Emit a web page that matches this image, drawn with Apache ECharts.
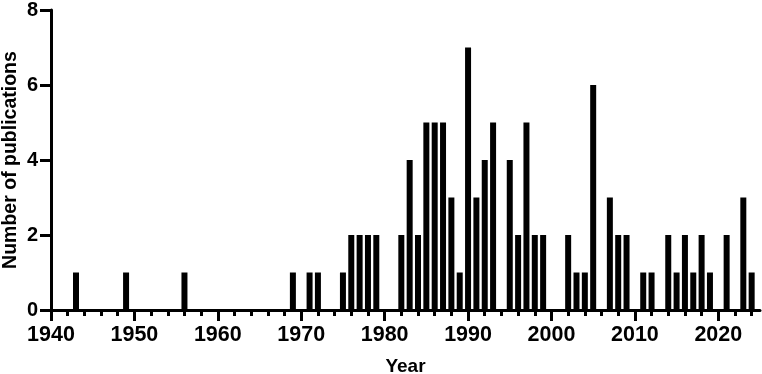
<!DOCTYPE html>
<html>
<head>
<meta charset="utf-8">
<script src="https://cdn.jsdelivr.net/npm/echarts@6/dist/echarts.min.js"></script>
<style>
html,body{margin:0;padding:0;background:#fff;}
#chart{width:762px;height:374px;}
</style>
</head>
<body>
<div id="chart"></div>
<script>
const years = [1943,1949,1956,1969,1971,1972,1975,1976,1977,1978,1979,1982,1983,1984,1985,1986,1987,1988,1989,1990,1991,1992,1993,1995,1996,1997,1998,1999,2002,2003,2004,2005,2007,2008,2009,2011,2012,2014,2015,2016,2017,2018,2019,2021,2023,2024];
const counts = [1,1,1,1,1,1,1,2,2,2,2,2,4,2,5,5,5,3,1,7,3,4,5,4,2,5,2,2,2,1,1,6,3,2,2,1,1,2,1,2,1,2,1,2,3,1];
// x tick labels: 1940..2020 every 10 years; minor ticks every 2 years up to 2024
const xTickFirst = 1940, xTickLast = 2020, xTickStep = 10;
const xMinorLast = 2024, xMinorStep = 2;
const xMax = 2025;
const yMin = 0, yMax = 8, yStep = 2;

const sans = '"Liberation Sans",Arial,Helvetica,sans-serif';
// plot area: x from 51 to 760 px for 1940..2025
const L = 51, R = 760, T = 10, B = 310, W = 762, H = 374;
const pxPerYear = (R - L) / (xMax - xTickFirst);
const gridFor = last => ({left:L, top:T, bottom:H-B, right: W - (L + (last - xTickFirst) * pxPerYear)});

const chart = echarts.init(document.getElementById('chart'), null, {renderer:'canvas'});
chart.setOption({
  animation:false,
  backgroundColor:'#fff',
  grid:[gridFor(xMax), gridFor(xMinorLast), gridFor(xTickLast)].map(g=>Object.assign(g,{outerBoundsMode:'none'})),
  xAxis:[{
    gridIndex:0, type:'value', min:xTickFirst, max:xMax,
    name:'Year', nameLocation:'middle', nameGap:47, nameMoveOverlap:false,
    nameTextStyle:{fontFamily:sans,fontWeight:'bold',fontSize:19,color:'#000'},
    axisLine:{show:true,lineStyle:{color:'#000',width:3}},
    axisTick:{show:false},
    axisLabel:{show:false},
    splitLine:{show:false}
  },{
    gridIndex:1, type:'value', min:xTickFirst, max:xMinorLast, interval:xMinorStep,
    axisLine:{show:false},
    axisTick:{show:true,length:6,lineStyle:{color:'#000',width:3}},
    axisLabel:{show:false},
    splitLine:{show:false}
  },{
    gridIndex:2, type:'value', min:xTickFirst, max:xTickLast, interval:xTickStep,
    axisLine:{show:false},
    axisTick:{show:true,length:11,lineStyle:{color:'#000',width:3}},
    axisLabel:{show:true,margin:14,fontFamily:sans,fontWeight:'bold',fontSize:21.5,color:'#000',formatter:v=>String(v)},
    splitLine:{show:false}
  }],
  yAxis:[{
    gridIndex:0, type:'value', min:yMin, max:yMax, interval:yStep,
    name:'Number of publications', nameLocation:'middle', nameGap:30, nameMoveOverlap:false,
    nameTextStyle:{fontFamily:sans,fontWeight:'bold',fontSize:19.5,color:'#000'},
    axisLine:{show:true,lineStyle:{color:'#000',width:3}},
    axisTick:{show:true,length:11,lineStyle:{color:'#000',width:3}},
    axisLabel:{margin:13,fontFamily:sans,fontWeight:'bold',fontSize:20,color:'#000',formatter:v=>String(v)},
    splitLine:{show:false}
  },{
    gridIndex:1, type:'value', min:yMin, max:yMax, show:false
  },{
    gridIndex:2, type:'value', min:yMin, max:yMax, show:false
  }],
  series:[{
    type:'bar', xAxisIndex:0, yAxisIndex:0,
    data: years.map((y,i)=>[y,counts[i]]),
    barWidth:6,
    itemStyle:{color:'#000'}
  }]
});
</script>
</body>
</html>
